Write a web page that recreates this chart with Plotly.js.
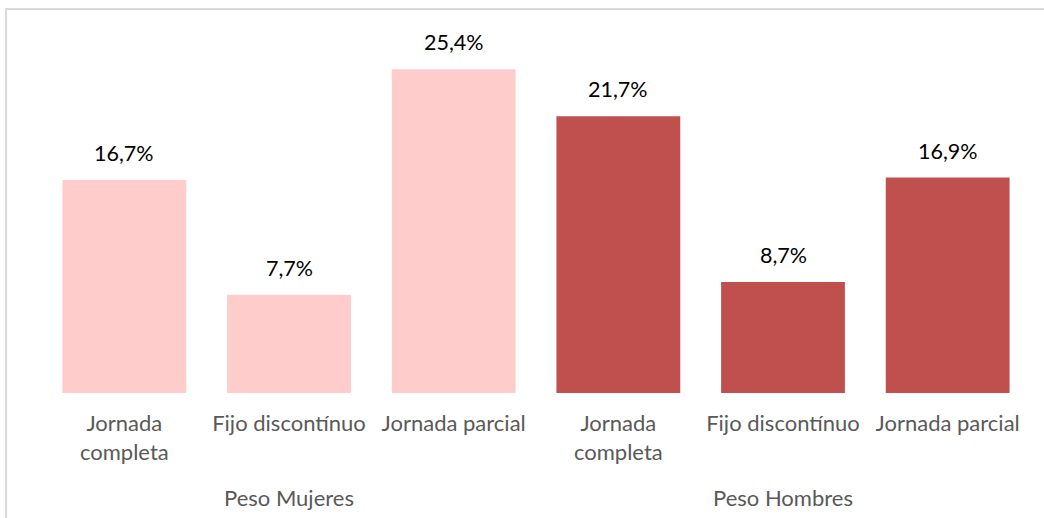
<!DOCTYPE html>
<html>
<head>
<meta charset="utf-8">
<script src="https://cdn.plot.ly/plotly-3.0.1.min.js"></script>
<style>
  html, body { margin: 0; padding: 0; background: #fff; }
  #graph { width: 1044px; height: 518px; }
</style>
</head>
<body>
<div id="graph"></div>
<script>
// grupos y tipos de jornada
const groups = ['Peso Mujeres', 'Peso Mujeres', 'Peso Mujeres', 'Peso Hombres', 'Peso Hombres', 'Peso Hombres'];
const tipos = ['Jornada<br>completa', 'Fijo discontínuo', 'Jornada parcial', 'Jornada<br>completa', 'Fijo discontínuo', 'Jornada parcial'];
const valores = [16.7, 7.7, 25.4, 21.7, 8.7, 16.9];
const colores = ['#FFCCCC', '#FFCCCC', '#FFCCCC', '#C0504D', '#C0504D', '#C0504D'];

// claves únicas para el eje (tipo repetido en cada grupo)
const claves = tipos.map((t, i) => groups[i] + ' | ' + t);
const etiquetas = valores.map(v => v.toFixed(1).replace('.', ',') + '%');
const FONT = 'Lato, "Open Sans", sans-serif';

const trace = {
    type: 'bar',
    x: claves,
    y: valores,
    marker: { color: colores },
    hoverinfo: 'none'
};

// etiquetas de datos encima de cada barra
const annData = claves.map((k, i) => ({
    x: k, y: valores[i], xref: 'x', yref: 'y',
    text: etiquetas[i], showarrow: false,
    yanchor: 'bottom', yshift: 12,
    font: { family: FONT, size: 21.5, color: '#000000' }
}));

// nombre de grupo bajo la categoría central de cada grupo
const annGroups = [...new Set(groups)].map(g => {
    const idx = groups.map((x, i) => x === g ? i : -1).filter(i => i >= 0);
    const mid = idx[Math.floor(idx.length / 2)];
    return {
        x: claves[mid], y: -0.294, xref: 'x', yref: 'paper',
        text: g, showarrow: false, yanchor: 'middle',
        font: { family: FONT, size: 22, color: '#595959' }
    };
});

const layout = {
    width: 1044,
    height: 518,
    margin: { l: 42, r: 14, t: 36, b: 125 },
    paper_bgcolor: '#ffffff',
    plot_bgcolor: '#ffffff',
    showlegend: false,
    bargap: 0.248,
    font: { family: FONT, size: 22, color: '#595959' },
    xaxis: {
        type: 'category',
        tickvals: claves,
        ticktext: tipos,
        showline: false,
        ticks: '',
        showgrid: false,
        ticklabelstandoff: 15,
        tickfont: { family: FONT, size: 22, color: '#595959' }
    },
    yaxis: {
        range: [0, 28],
        visible: false,
        showgrid: false,
        zeroline: false
    },
    annotations: annData.concat(annGroups),
    shapes: [{
        type: 'rect', xref: 'paper', yref: 'paper',
        x0: -0.0364, x1: 1.2, y0: -0.6, y1: 1.0756,
        line: { color: '#D9D9D9', width: 2 }
    }]
};

Plotly.newPlot('graph', [trace], layout, { staticPlot: true });
</script>
</body>
</html>
